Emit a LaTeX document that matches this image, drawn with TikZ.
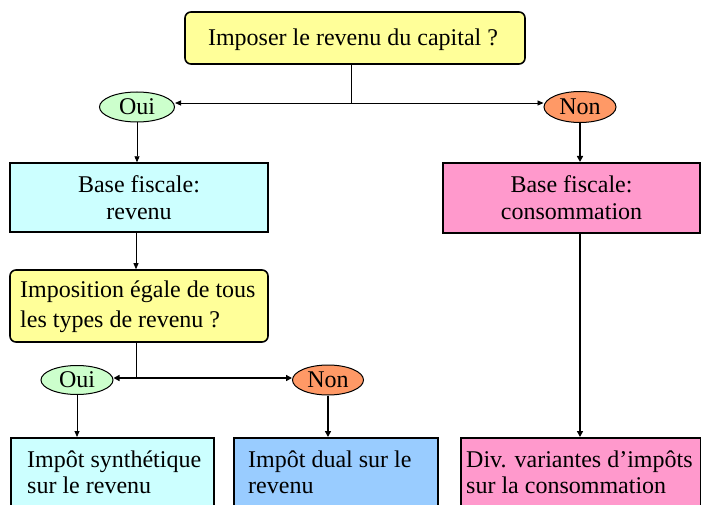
\documentclass[tikz,border=0pt]{standalone}
\usepackage{fontspec}
\setmainfont{Liberation Serif}
\usetikzlibrary{arrows.meta,shapes.geometric}
\definecolor{qyellow}{HTML}{FFFF99}
\definecolor{ouigreen}{HTML}{CCFFCC}
\definecolor{nonorange}{HTML}{FF9966}
\definecolor{boxcyan}{HTML}{CCFFFF}
\definecolor{boxpink}{HTML}{FF99CC}
\definecolor{boxblue}{HTML}{99CCFF}
\tikzset{
  every node/.style={font=\fontsize{24}{27}\selectfont},
  qbox/.style={draw=black, line width=1.6pt, rounded corners=6pt, fill=qyellow, inner sep=0pt},
  answer/.style={ellipse, draw=black, line width=1pt, inner sep=0pt},
  basebox/.style={draw=black, line width=1.4pt, align=center, inner sep=0pt},
  endbox/.style={draw=black, line width=1.8pt, anchor=north west, inner sep=0pt, minimum height=90pt},
  lefttext/.style={anchor=base west, align=left, inner sep=0pt},
  thinarrow/.style={line width=0.8pt, -{Triangle[length=6pt,width=5pt]}},
  thickarrow/.style={line width=2.2pt, -{Triangle[length=6pt,width=6pt]}},
  thinline/.style={line width=0.8pt},
}
\begin{document}
\begin{tikzpicture}[x=1pt,y=-1pt]
\useasboundingbox (0,0) rectangle (701,505);
\clip (0,0) rectangle (701,505);
% top question
\node[qbox, minimum width=340pt, minimum height=52pt] (q1) at (355,38) {};
\node[anchor=base, inner sep=0pt] (q1t) at (353,46) {Imposer le revenu du capital ?};
\node[answer, fill=ouigreen, minimum width=75pt, minimum height=30pt] (oui1) at (137,107) {Oui};
\node[answer, fill=nonorange, minimum width=72pt, minimum height=31pt] (non1) at (580,107) {Non};
\coordinate (j1) at (351,103);
\draw[thinline] (j1 |- q1.south) -- (j1);
\draw[thinarrow] (j1) -- (oui1.east |- j1);
\draw[thinarrow] (j1) -- (non1.west |- j1);
% base boxes
\node[basebox, fill=boxcyan, minimum width=258pt, minimum height=69pt] (base1) at (139,197.5) {Base fiscale:\\revenu};
\node[basebox, fill=boxpink, line width=2pt, minimum width=257pt, minimum height=70pt] (base2) at (571.5,198) {Base fiscale:\\consommation};
\draw[thinarrow] (oui1.south) -- (oui1.south |- base1.north);
\draw[thickarrow] (non1.south) -- (non1.south |- base2.north);
% second question
\node[qbox, minimum width=258pt, minimum height=72pt] (q2) at (139,306) {};
\node[lefttext, font=\fontsize{24}{30}\selectfont] (q2t) at (20,327) {Imposition égale de tous\\les types de revenu ?};
\draw[thinarrow] (base1.south -| 136,0) -- (q2.north -| 136,0);
\node[answer, fill=ouigreen, minimum width=72pt, minimum height=29pt] (oui2) at (77,380) {Oui};
\node[answer, fill=nonorange, minimum width=71pt, minimum height=30pt] (non2) at (328,380) {Non};
\coordinate (j2) at (136,378);
\draw[thinline] (q2.south -| j2) -- (j2);
\draw[line width=1.6pt, -{Triangle[length=6pt,width=6pt]}] (j2) -- (oui2.east |- j2);
\draw[line width=1.6pt, -{Triangle[length=6pt,width=6pt]}] (j2) -- (non2.west |- j2);
% end boxes
\node[endbox, fill=boxcyan, minimum width=203pt] (e1) at (10,437) {};
\node[endbox, fill=boxblue, minimum width=204pt] (e2) at (233,437) {};
\node[endbox, fill=boxpink, minimum width=240pt] (e3) at (460,437) {};
\node[lefttext, font=\fontsize{24}{26}\selectfont] (e1t) at (27,493) {Impôt synthétique\\sur le revenu};
\node[lefttext, font=\fontsize{24}{26}\selectfont] (e2t) at (248,493) {Impôt dual sur le\\revenu};
\node[lefttext, font=\fontsize{24}{26}\selectfont] (e3t) at (466,493) {Div. variantes d’impôts\\sur la consommation};
\draw[thinarrow] (oui2.south) -- (oui2.south |- e1.north);
\draw[thickarrow] (non2.south) -- (non2.south |- e2.north);
\draw[thickarrow] (base2.south -| non1.south) -- (non1.south |- e3.north);
\end{tikzpicture}
\end{document}
